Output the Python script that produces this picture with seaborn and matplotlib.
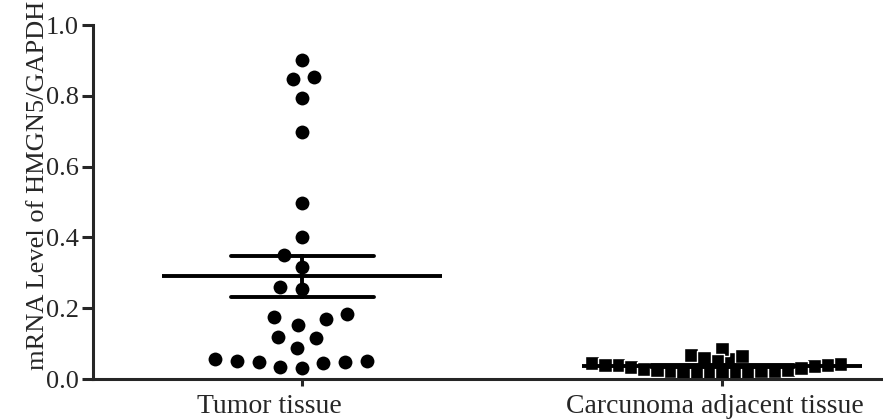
import pandas as pd
import numpy as np
import matplotlib
matplotlib.use("Agg")
import matplotlib.pyplot as plt
import matplotlib.transforms as mtransforms
from matplotlib.markers import MarkerStyle
import seaborn as sns

# values
groups = ["Tumor tissue", "Carcunoma adjacent tissue"]
tumor = [0.900, 0.852, 0.847, 0.794, 0.697, 0.496, 0.400, 0.350, 0.317,
         0.259, 0.253, 0.169, 0.184, 0.153, 0.176, 0.118, 0.117, 0.087,
         0.052, 0.049, 0.044, 0.030, 0.035, 0.049, 0.051, 0.056]
adjacent = [0.068, 0.056, 0.042, 0.040, 0.045, 0.085, 0.040, 0.040, 0.050,
            0.058, 0.065, 0.036, 0.034,
            0.028, 0.022, 0.020, 0.020, 0.020, 0.018, 0.020, 0.020, 0.022,
            0.024, 0.026, 0.030, 0.025]
yticks = [0.0, 0.2, 0.4, 0.6, 0.8, 1.0]

df = pd.DataFrame({
    "group": [groups[0]] * len(tumor) + [groups[1]] * len(adjacent),
    "value": tumor + adjacent,
})

sns.set_theme(style="ticks")
plt.rcParams["font.family"] = ["Liberation Serif", "DejaVu Serif"]

fig = plt.figure(figsize=(8.83, 4.2), dpi=100)
ax = fig.add_axes([93 / 883, 41 / 420, 790 / 883, 354 / 420])

# circles: white edge keeps a small gap between neighbouring dots (Prism look)
sns.swarmplot(data=df[df["group"] == groups[0]], x="group", y="value", order=groups,
              marker="o", color="black", size=12.5, linewidth=2.5,
              edgecolor="white", ax=ax, clip_on=False, zorder=1.5)
# squares: drawn a bit larger than their swarm footprint so they overlap,
# thin white outline keeps the individual squares readable
big_square = MarkerStyle("s", transform=mtransforms.Affine2D().scale(1.3))
sns.swarmplot(data=df[df["group"] == groups[1]], x="group", y="value", order=groups,
              marker=big_square, color="black", size=8, linewidth=1,
              edgecolor="white", ax=ax, clip_on=False, zorder=1.5)

# mean line + SEM error bars
sns.pointplot(data=df, x="group", y="value", order=groups, errorbar="se",
              capsize=0.34, linestyle="none", marker="_", markersize=202,
              markeredgewidth=2.8, color="black",
              err_kws={"linewidth": 2.8}, ax=ax)
for ln in ax.lines:
    ln.set_zorder(4)

ax.set_xlim(-0.498, 1.383)
ax.set_ylim(0, 1.0)
ax.set_yticks(yticks)
ax.set_yticklabels([f"{t:.1f}" for t in yticks], fontsize=19)
ax.tick_params(axis="y", length=8, width=2.2, pad=2)
ax.tick_params(axis="x", length=5, width=2.2, pad=6, labelsize=20)
ax.set_xlabel("")
ax.set_ylabel("mRNA Level of HMGN5/GAPDH", fontsize=19)
ax.yaxis.set_label_coords(-0.056, 0.548)

# category labels sit a little left of their ticks in the original
for lab, dx in zip(ax.get_xticklabels(), [-33, -7]):
    lab.set_transform(lab.get_transform()
                      + mtransforms.ScaledTranslation(dx / 100, 0, fig.dpi_scale_trans))

for side in ["top", "right"]:
    ax.spines[side].set_visible(False)
for side in ["left", "bottom"]:
    ax.spines[side].set_linewidth(2.2)
    ax.spines[side].set_zorder(5)
ax.xaxis.set_zorder(5)

fig.savefig("out.png", dpi=100)
